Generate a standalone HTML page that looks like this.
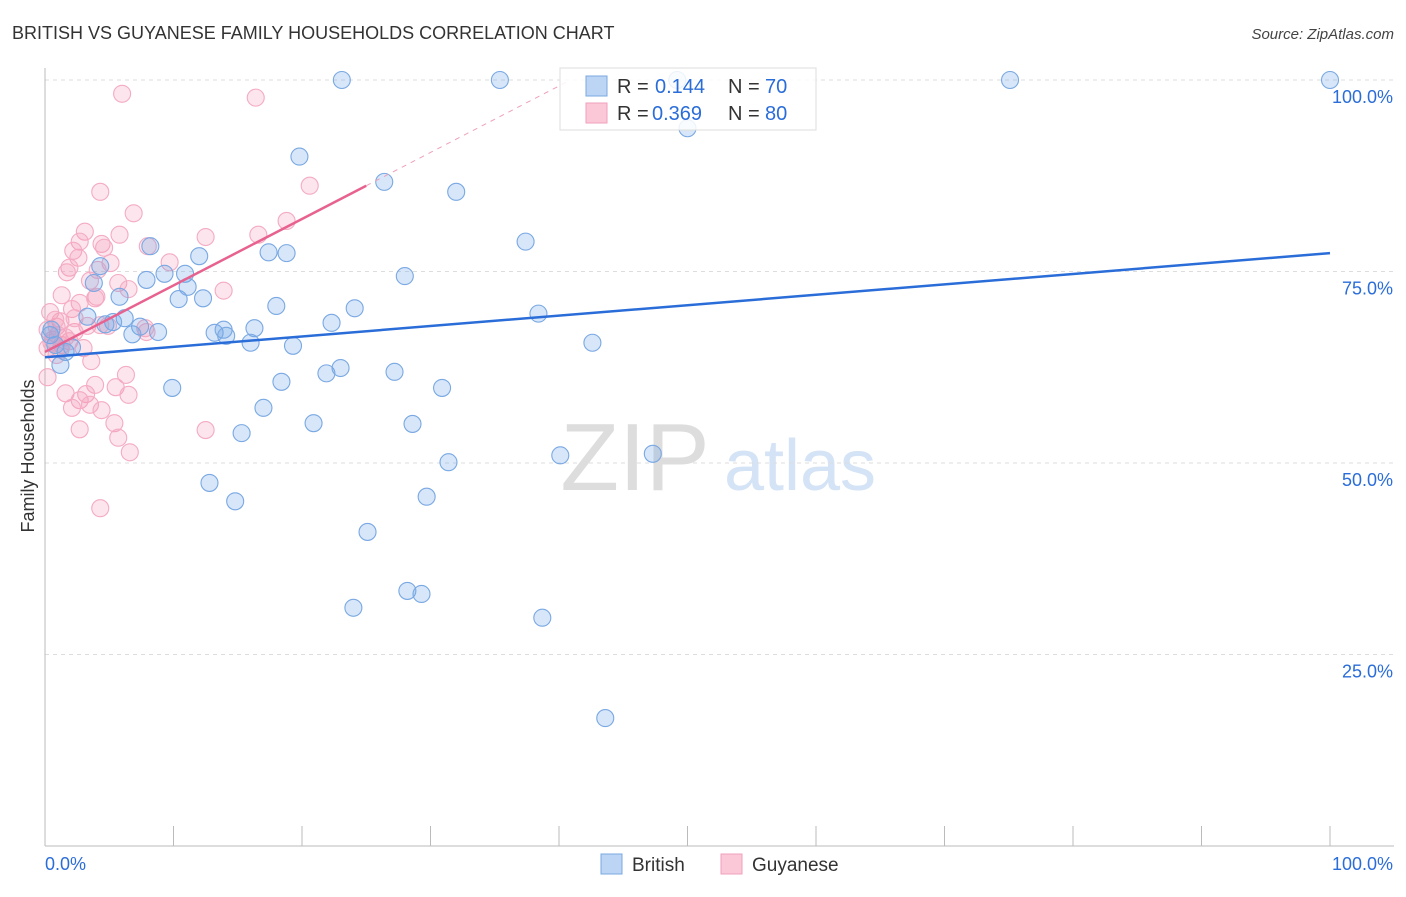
<!DOCTYPE html>
<html><head><meta charset="utf-8"><style>
body{margin:0;background:#fff;font-family:"Liberation Sans",sans-serif}
svg text{font-family:"Liberation Sans",sans-serif}
</style></head><body>
<svg id="chart" width="1406" height="892" xmlns="http://www.w3.org/2000/svg">
<text x="12" y="39" font-size="18" fill="#333">BRITISH VS GUYANESE FAMILY HOUSEHOLDS CORRELATION CHART</text>
<text x="1394" y="39" font-size="15" fill="#444" text-anchor="end" font-style="italic">Source: ZipAtlas.com</text>
<text transform="translate(34,456) rotate(-90)" font-size="18" fill="#333" text-anchor="middle">Family Households</text>
<g>
<text x="635" y="490" font-size="96" fill="#ddd" text-anchor="middle" font-family="Liberation Serif,serif">ZIP</text>
<text x="800" y="490" font-size="72" fill="#d4e3f5" text-anchor="middle">atlas</text>
</g>
<g id="grid"></g><g id="axes"></g><g id="pts"></g><g id="lines"></g>
<g>
<rect x="560" y="68" width="256" height="62" fill="#fff" fill-opacity="0.85" stroke="#ddd"/>
<rect x="586" y="76" width="21" height="20" fill="#bcd5f5" stroke="#7ba8e0"/>
<rect x="586" y="103" width="21" height="20" fill="#fbc8d8" stroke="#f0a0bb"/>
<text x="617" y="93" font-size="20" fill="#333">R =</text>
<text x="655" y="93" font-size="20" fill="#2a6dd9">0.144</text>
<text x="728" y="93" font-size="20" fill="#333">N =</text>
<text x="765" y="93" font-size="20" fill="#2a6dd9">70</text>
<text x="617" y="120" font-size="20" fill="#333">R =</text>
<text x="652" y="120" font-size="20" fill="#2a6dd9">0.369</text>
<text x="728" y="120" font-size="20" fill="#333">N =</text>
<text x="765" y="120" font-size="20" fill="#2a6dd9">80</text>
</g>
<g>
<rect x="601" y="854" width="21" height="20" fill="#bcd5f5" stroke="#7ba8e0"/>
<text x="632" y="871" font-size="19" fill="#333">British</text>
<rect x="721" y="854" width="21" height="20" fill="#fbc8d8" stroke="#f0a0bb"/>
<text x="752" y="871" font-size="19" fill="#333">Guyanese</text>
</g>
</svg>
<script>
const yTicks=[25,50,75,100];
const yTickLabels=["25.0%","50.0%","75.0%","100.0%"];
const britishX=[23.1,35.4,75.1,100,49.2,50.0,19.8,26.4,32.0,37.4,8.2,17.4,18.8,12.0,28.0,9.3,10.9,4.3,7.9,3.8,11.1,10.4,12.3,5.8,18.0,24.1,3.3,6.2,5.3,4.7,22.3,38.4,7.4,8.8,6.8,13.2,13.9,14.1,16.3,16.0,19.3,42.6,1.6,1.2,18.4,21.9,23.0,27.2,30.9,9.9,17.0,20.9,15.3,28.6,31.4,40.1,47.3,12.8,14.8,29.7,25.1,28.2,29.3,24.0,38.7,43.6,0.4,0.8,0.5,2.1];
const britishY=[100,100,100,100,100,93.7,90.0,86.7,85.4,78.9,78.3,77.5,77.4,77.0,74.4,74.7,74.7,75.7,73.9,73.5,73.0,71.4,71.5,71.7,70.5,70.2,69.1,68.9,68.4,68.1,68.3,69.5,67.8,67.1,66.8,67.0,67.4,66.6,67.6,65.7,65.3,65.7,64.5,62.8,60.6,61.7,62.4,61.9,59.8,59.8,57.2,55.2,53.9,55.1,50.1,51.0,51.2,47.4,45.0,45.6,41.0,33.3,32.9,31.1,29.8,16.7,66.7,65.4,67.4,65.1];
const guyX=[6.0,16.4,4.3,20.6,6.9,18.8,12.5,16.6,3.1,5.8,2.7,4.4,8.0,4.6,2.2,2.6,9.7,5.1,1.9,1.7,13.9,4.1,3.5,5.7,6.5,1.3,4.0,2.7,3.9,2.1,0.4,1.2,0.9,3.3,2.3,4.9,7.9,0.6,1.9,0.2,3.0,1.3,0.9,3.6,0.2,6.3,3.9,5.5,1.6,3.2,6.5,2.7,3.5,4.4,2.1,5.4,2.7,5.7,6.6,12.5,4.3,1.0,0.5,1.6,1.2,0.2,0.8,2.3,4.3,7.8];
const guyY=[98.2,97.7,85.4,86.2,82.6,81.6,79.5,79.8,80.2,79.8,78.9,78.6,78.3,78.1,77.7,76.8,76.2,76.1,75.5,74.9,72.5,75.2,73.8,73.5,72.7,71.9,71.7,70.9,71.5,70.1,69.7,68.5,67.8,67.9,67.1,67.9,67.1,66.1,65.9,65.0,65.0,65.4,64.1,63.3,61.2,61.5,60.2,59.9,59.1,59.0,58.9,58.2,57.6,56.9,57.2,55.2,54.4,53.3,51.4,54.3,44.1,66.7,65.7,66.4,64.8,67.4,68.7,68.9,68.0,67.6];
const britishTrend=[63.8,77.4];
const guyTrend=[64.5,86.2];
const guySolidEnd=25;
const NS="http://www.w3.org/2000/svg";
const X=v=>45+v*12.85, Y=v=>846-v*7.66;
function mk(t,a,p){const e=document.createElementNS(NS,t);for(const k in a)e.setAttribute(k,a[k]);document.getElementById(p).appendChild(e);return e;}
yTicks.forEach((t,i)=>{
 const g=mk('line',{x1:45,x2:1394,y1:Y(t),y2:Y(t),stroke:'#ddd','stroke-dasharray':'4,4'},'grid');
 
 
 const l=mk('text',{x:1393,y:Y(t)+23,'font-size':18,fill:'#2a6dd9','text-anchor':'end'},'grid');l.textContent=yTickLabels[i];
 
 
});
const ax=mk('line',{x1:45,x2:1394,y1:846,y2:846,stroke:'#bbb'},'axes');


const ay=mk('line',{x1:45,x2:45,y1:68,y2:846,stroke:'#bbb'},'axes');


for(let i=0;i<=10;i++){const t=mk('line',{x1:X(i*10),x2:X(i*10),y1:826,y2:846,stroke:'#bbb'},'axes');
 
 }
const x0=mk('text',{x:45,y:870,'font-size':18,fill:'#2a6dd9'},'axes');x0.textContent='0.0%';


const x1=mk('text',{x:1393,y:870,'font-size':18,fill:'#2a6dd9','text-anchor':'end'},'axes');x1.textContent='100.0%';


guyX.forEach((v,i)=>{const c=mk('circle',{cx:X(v),cy:Y(guyY[i]),r:8.5,fill:'rgba(244,150,180,0.25)',stroke:'#f4abc3','stroke-width':1.1},'pts');
 
 });
britishX.forEach((v,i)=>{const c=mk('circle',{cx:X(v),cy:Y(britishY[i]),r:8.5,fill:'rgba(110,165,230,0.28)',stroke:'#79a8e3','stroke-width':1.1},'pts');
 
 });
const bl=mk('line',{x1:X(0),y1:Y(britishTrend[0]),x2:X(100),y2:Y(britishTrend[1]),stroke:'#2a6dd9','stroke-width':2.5},'lines');


const slope=(guyTrend[1]-guyTrend[0])/guySolidEnd;
const gl=mk('line',{x1:X(0),y1:Y(guyTrend[0]),x2:X(guySolidEnd),y2:Y(guyTrend[1]),stroke:'#e8628f','stroke-width':2.5},'lines');


const xEnd=(100-guyTrend[0])/slope;
const gd=mk('line',{x1:X(guySolidEnd),y1:Y(guyTrend[1]),x2:X(xEnd),y2:Y(100),stroke:'#eea0b8','stroke-width':1,'stroke-dasharray':'5,5'},'lines');


</script>
</body></html>
